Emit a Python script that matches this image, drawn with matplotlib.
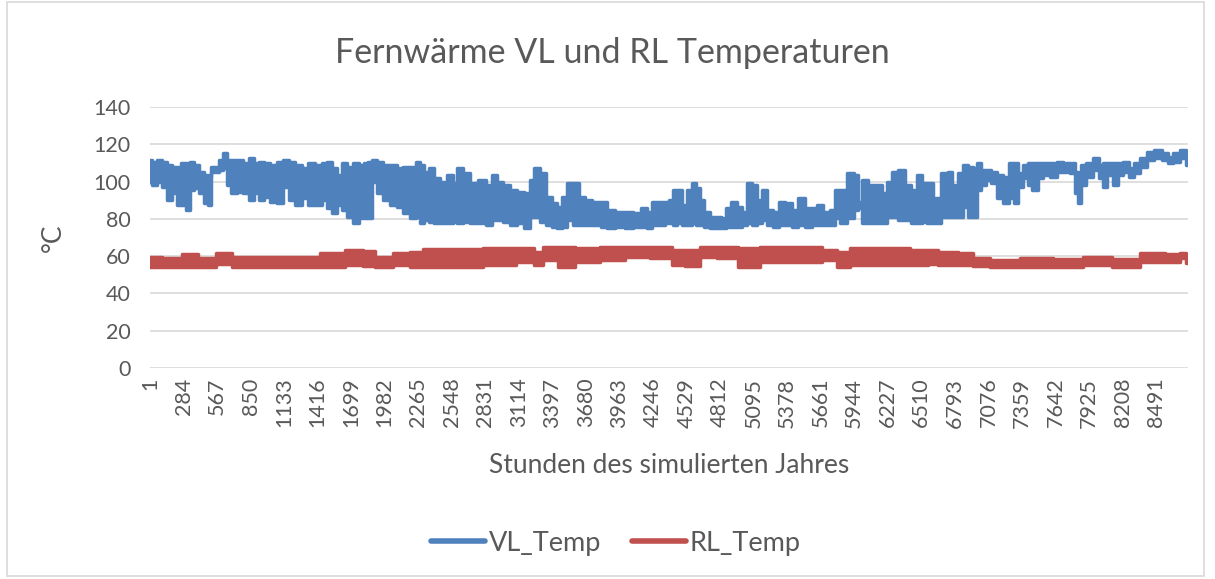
import matplotlib
matplotlib.use('Agg')
import matplotlib.pyplot as plt
from matplotlib.lines import Line2D
from matplotlib.patches import Rectangle

## data: upper / lower edge of each noisy hourly band
vl_hours = [1, 42, 84, 127, 169, 211, 239, 281, 324, 352, 394, 436, 478, 506, 520, 563, 605, 633, 661, 703,
            760, 816, 858, 900, 942, 985, 1041, 1097, 1153, 1196, 1252, 1308, 1364, 1421, 1477, 1519, 1561,
            1604, 1632, 1688, 1744, 1786, 1829, 1857, 1885, 1941, 1998, 2054, 2110, 2166, 2223, 2265, 2293,
            2335, 2377, 2419, 2476, 2546, 2574, 2616, 2673, 2729, 2813, 2855, 2912, 2954, 3010, 3066, 3123,
            3193, 3221, 3263, 3320, 3362, 3418, 3460, 3502, 3545, 3601, 3643, 3699, 3770, 3840, 3882, 3967,
            4051, 4107, 4178, 4220, 4248, 4332, 4360, 4402, 4431, 4473, 4515, 4557, 4585, 4628, 4656, 4698,
            4754, 4796, 4838, 4881, 4923, 4979, 5021, 5064, 5106, 5148, 5190, 5232, 5289, 5331, 5387, 5443,
            5500, 5556, 5612, 5654, 5711, 5767, 5795, 5851, 5921, 5964, 5992, 6034, 6090, 6146, 6203, 6245,
            6287, 6343, 6400, 6442, 6498, 6541, 6583, 6640, 6710, 6752, 6794, 6837, 6879, 6921, 6963, 6991,
            7033, 7076, 7118, 7174, 7230, 7273, 7315, 7343, 7385, 7427, 7469, 7512, 7568, 7624, 7680, 7737,
            7793, 7821, 7844, 7877, 7920, 7990, 8032, 8060, 8102, 8145, 8187, 8243, 8285, 8327, 8384, 8440,
            8510, 8567, 8609, 8665, 8721, 8760]
vl_high = [111.6, 110.7, 111.6, 110.7, 108.9, 108.0, 108.0, 109.8, 109.8, 110.7, 108.9, 105.3, 103.5, 102.6,
           108.0, 108.0, 111.6, 115.5, 111.6, 111.6, 111.6, 109.8, 112.5, 109.8, 110.7, 109.8, 108.9, 110.7,
           111.6, 110.7, 108.9, 107.1, 109.8, 108.9, 109.8, 110.7, 107.1, 103.5, 109.8, 108.0, 109.8, 108.9,
           109.8, 110.7, 111.6, 110.7, 108.9, 108.9, 107.1, 108.0, 108.0, 110.7, 108.9, 105.3, 107.1, 101.7,
           99.9, 103.5, 99.1, 107.1, 104.4, 99.1, 100.9, 98.2, 103.5, 99.9, 98.2, 95.5, 94.6, 93.7, 100.9,
           107.1, 104.4, 91.9, 88.3, 86.5, 91.9, 99.1, 99.1, 91.9, 90.1, 89.2, 89.2, 84.8, 83.9, 83.9, 83.0,
           85.6, 83.9, 89.2, 89.2, 89.2, 90.1, 95.5, 95.5, 87.4, 95.5, 99.1, 96.4, 90.1, 83.9, 81.2, 81.2,
           80.3, 85.6, 89.2, 86.5, 83.9, 99.1, 98.2, 90.1, 95.5, 84.8, 83.9, 89.2, 88.3, 84.8, 91.0, 85.6,
           85.6, 87.4, 83.9, 84.8, 95.5, 95.5, 104.4, 103.5, 89.2, 100.9, 98.2, 98.2, 93.7, 99.9, 105.3,
           106.2, 98.2, 95.5, 103.5, 99.1, 99.1, 91.0, 104.4, 105.3, 98.2, 104.4, 108.9, 108.0, 107.1, 109.8,
           106.2, 106.2, 105.3, 103.5, 102.6, 109.8, 109.8, 104.4, 108.9, 109.8, 109.8, 109.8, 109.8, 109.8,
           110.7, 109.8, 109.8, 105.3, 100.9, 108.9, 109.8, 112.5, 108.9, 109.8, 109.8, 109.8, 109.8, 110.7,
           107.1, 109.8, 112.5, 116.1, 117.0, 115.2, 113.4, 115.2, 117.0, 116.1]
vl_low = [100.0, 98.2, 100.0, 97.3, 90.1, 93.7, 87.4, 87.4, 84.8, 95.5, 96.4, 93.7, 88.3, 87.4, 105.3, 105.3,
          106.2, 107.1, 98.2, 93.7, 94.6, 93.7, 90.1, 93.7, 90.1, 91.9, 89.2, 88.3, 97.3, 90.1, 87.4, 91.0,
          87.4, 87.4, 90.1, 85.6, 83.0, 87.4, 84.8, 81.2, 77.6, 80.3, 80.3, 80.3, 100.0, 93.7, 90.1, 87.4,
          86.5, 83.0, 80.3, 81.2, 77.6, 79.4, 78.5, 77.6, 77.6, 77.6, 78.5, 77.6, 78.5, 77.6, 77.6, 76.7,
          79.4, 79.4, 78.5, 76.7, 77.6, 74.9, 81.2, 81.2, 78.5, 76.7, 75.8, 74.9, 75.8, 79.4, 76.7, 76.7,
          76.7, 76.7, 75.8, 74.9, 75.8, 74.9, 75.8, 75.8, 74.9, 76.7, 76.7, 77.6, 77.6, 76.7, 77.6, 76.7,
          76.7, 77.6, 76.7, 76.7, 75.8, 74.9, 74.9, 74.9, 75.8, 75.8, 75.8, 76.7, 77.6, 76.7, 77.6, 79.4,
          76.7, 75.8, 76.7, 76.7, 75.8, 76.7, 75.8, 76.7, 76.7, 76.7, 76.7, 80.3, 77.6, 80.3, 84.8, 85.6,
          77.6, 77.6, 77.6, 77.6, 81.2, 81.2, 79.4, 79.4, 77.6, 77.6, 78.5, 77.6, 77.6, 81.2, 81.2, 81.2,
          81.2, 86.5, 81.2, 81.2, 95.5, 98.2, 100.9, 99.1, 91.0, 88.3, 91.0, 88.3, 97.3, 101.7, 98.2, 95.5,
          101.7, 103.5, 102.6, 105.3, 105.3, 104.4, 93.7, 88.3, 98.2, 102.6, 106.2, 101.7, 97.3, 103.5, 98.2,
          103.5, 105.3, 102.6, 104.4, 108.0, 111.6, 112.5, 111.6, 109.8, 110.7, 112.5, 108.9]

rl_hours = [1, 197, 338, 478, 633, 760, 1041, 1322, 1547, 1744, 1857, 1941, 2166, 2223, 2391, 2673, 2954,
            3221, 3263, 3376, 3517, 3657, 3938, 4079, 4360, 4445, 4585, 4698, 4867, 5064, 5232, 5429, 5570,
            5767, 5823, 5992, 6273, 6554, 6583, 6724, 6921, 6977, 7202, 7484, 7765, 7990, 8243, 8468, 8665,
            8721, 8760]
rl_high = [59.7, 58.8, 61.0, 58.8, 61.5, 59.7, 59.4, 59.7, 61.5, 63.3, 63.0, 59.7, 61.5, 62.4, 63.6, 63.6,
           64.2, 64.2, 62.4, 65.1, 65.1, 64.2, 65.1, 64.7, 65.1, 63.3, 63.3, 65.1, 64.7, 64.2, 64.7, 64.7,
           64.7, 63.3, 62.4, 64.2, 64.2, 63.3, 63.3, 62.4, 61.9, 58.8, 57.9, 58.8, 58.3, 59.7, 58.3, 61.5,
           61.2, 61.9, 59.7]
rl_low = [54.4, 54.4, 54.4, 54.4, 55.8, 54.4, 54.4, 54.4, 54.4, 55.3, 54.7, 54.4, 55.3, 54.4, 54.4, 54.4,
          55.3, 57.0, 55.3, 57.9, 54.4, 57.0, 57.9, 59.7, 58.8, 55.3, 54.7, 59.7, 58.8, 54.4, 57.0, 57.0,
          57.0, 57.9, 54.4, 55.3, 55.3, 55.3, 55.8, 55.3, 55.3, 54.7, 54.4, 54.4, 54.4, 55.3, 54.4, 57.0,
          57.0, 58.8, 56.1]

x_ticks = list(range(1, 8761, 283))
y_ticks = [0, 20, 40, 60, 80, 100, 120, 140]

blue = '#4F81BD'
red = '#C0504D'
grey_text = '#595959'
plt.rcParams['font.family'] = ['Lato', 'DejaVu Sans']

fig = plt.figure(figsize=(12.15, 5.79), dpi=100)
fig.patches.append(Rectangle((0.006, 0.006), 0.985, 0.99, transform=fig.transFigure,
                             fill=False, edgecolor='#D9D9D9', linewidth=1.2))
ax = fig.add_axes([150/1215, 1-368/579, (1188-150)/1215, (368-107)/579])

# blocky hourly band: steps between read points
for h, hi, lo, c in [(vl_hours, vl_high, vl_low, blue), (rl_hours, rl_high, rl_low, red)]:
    ax.fill_between(h, lo, hi, step='mid', color=c, linewidth=0, zorder=3)
    ax.plot(h, hi, color=c, lw=2.5, drawstyle='steps-mid', solid_joinstyle='round', zorder=3)
    ax.plot(h, lo, color=c, lw=2.5, drawstyle='steps-mid', solid_joinstyle='round', zorder=3)

ax.set_xlim(0.5, 8760.5)
ax.set_ylim(0, 140)
ax.set_yticks(y_ticks)
ax.set_xticks(x_ticks)
ax.set_xticklabels([str(t) for t in x_ticks], rotation=90)
ax.grid(axis='y', color='#D9D9D9', linewidth=1.2, zorder=0)
ax.set_axisbelow(True)
for s in ax.spines.values():
    s.set_visible(False)
ax.tick_params(length=0, labelsize=15.5, labelcolor=grey_text)
ax.tick_params(axis='y', pad=14)
ax.tick_params(axis='x', pad=7)

ax.set_ylabel('°C', fontsize=19, color=grey_text, labelpad=20)
ax.set_xlabel('Stunden des simulierten Jahres', fontsize=19, color=grey_text, labelpad=18)
fig.text(612/1215, 1-53/579, 'Fernwärme VL und RL Temperaturen', fontsize=24.5,
         color=grey_text, ha='center', va='center')

handles = [Line2D([], [], color=blue, lw=4, solid_capstyle='round'),
           Line2D([], [], color=red, lw=4, solid_capstyle='round')]
fig.legend(handles, ['VL_Temp', 'RL_Temp'], loc='center', bbox_to_anchor=(616/1215, 1-543/579),
           ncol=2, frameon=False, fontsize=19.5, labelcolor=grey_text, handlelength=2.0,
           handletextpad=0.15, columnspacing=1.1)

fig.savefig('out.png', dpi=100)
